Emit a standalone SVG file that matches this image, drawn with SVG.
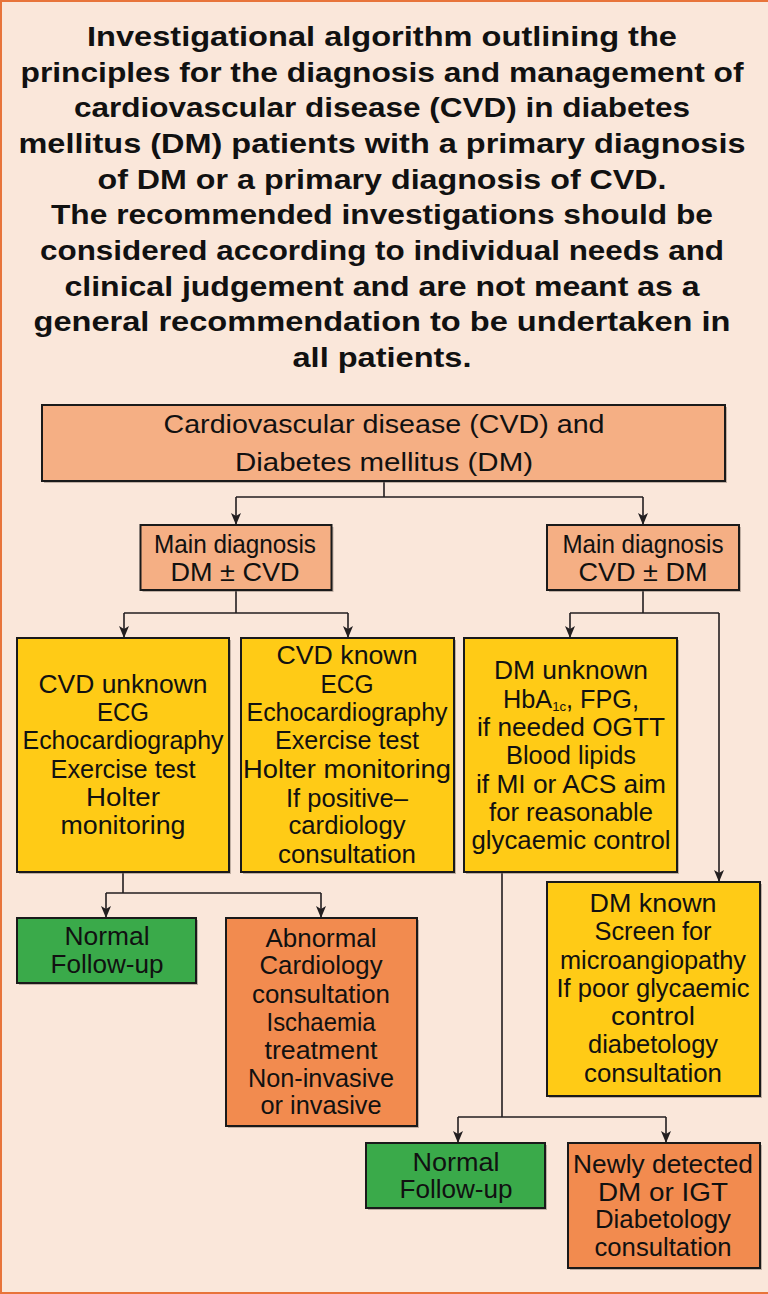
<svg xmlns="http://www.w3.org/2000/svg" width="768" height="1294" viewBox="0 0 768 1294">
<style>
.title{font-family:"Liberation Sans",Arial,sans-serif;font-weight:bold;font-size:27px;fill:#111;text-anchor:middle}
.t{font-family:"Liberation Sans Narrow","Liberation Sans",Arial,sans-serif;font-size:25px;fill:#111;text-anchor:middle}
.box{stroke:#1a1a1a;stroke-width:2}
.sh{fill:#7a6a60;opacity:0.45}
.peach{fill:#F5AF84}
.yellow{fill:#FFCB16}
.green{fill:#3AAA4A}
.orange{fill:#F28B4F}
.conn{fill:none;stroke:#231F20;stroke-width:1.6}
</style>
<defs>
<marker id="arr" markerUnits="userSpaceOnUse" markerWidth="12" markerHeight="10" viewBox="0 0 12 10" refX="12" refY="5" orient="auto">
<path d="M0,0 L12,5 L0,10 L3,5 z" fill="#231F20"/>
</marker>
</defs>
<rect x="1" y="1" width="800" height="1292" fill="#FAE7DA" stroke="#E8743A" stroke-width="2"/>
<g id="title">
<text class="title" x="382" y="46" textLength="590" lengthAdjust="spacingAndGlyphs">Investigational algorithm outlining the</text>
<text class="title" x="382" y="82" textLength="723" lengthAdjust="spacingAndGlyphs">principles for the diagnosis and management of</text>
<text class="title" x="382" y="117" textLength="616" lengthAdjust="spacingAndGlyphs">cardiovascular disease (CVD) in diabetes</text>
<text class="title" x="382" y="153" textLength="727" lengthAdjust="spacingAndGlyphs">mellitus (DM) patients with a primary diagnosis</text>
<text class="title" x="382" y="189" textLength="569" lengthAdjust="spacingAndGlyphs">of DM or a primary diagnosis of CVD.</text>
<text class="title" x="382" y="224" textLength="662" lengthAdjust="spacingAndGlyphs">The recommended investigations should be</text>
<text class="title" x="382" y="260" textLength="684" lengthAdjust="spacingAndGlyphs">considered according to individual needs and</text>
<text class="title" x="382" y="296" textLength="635" lengthAdjust="spacingAndGlyphs">clinical judgement and are not meant as a</text>
<text class="title" x="382" y="331" textLength="697" lengthAdjust="spacingAndGlyphs">general recommendation to be undertaken in</text>
<text class="title" x="382" y="367" textLength="179" lengthAdjust="spacingAndGlyphs">all patients.</text>
</g>
<g id="connectors">
<path class="conn" d="M384,481 V497 M236,497 H643"/>
<path class="conn" d="M236,497 V525" marker-end="url(#arr)"/>
<path class="conn" d="M643,497 V525" marker-end="url(#arr)"/>
<path class="conn" d="M236,590 V613 M124,613 H348 M643,590 V613 M570,613 H719"/>
<path class="conn" d="M124,613 V638" marker-end="url(#arr)"/>
<path class="conn" d="M348,613 V638" marker-end="url(#arr)"/>
<path class="conn" d="M570,613 V638" marker-end="url(#arr)"/>
<path class="conn" d="M719,613 V882" marker-end="url(#arr)"/>
<path class="conn" d="M123,872 V893 M106,893 H321"/>
<path class="conn" d="M106,893 V918" marker-end="url(#arr)"/>
<path class="conn" d="M321,893 V918" marker-end="url(#arr)"/>
<path class="conn" d="M502,872 V1117 M458,1117 H666"/>
<path class="conn" d="M458,1117 V1143" marker-end="url(#arr)"/>
<path class="conn" d="M666,1117 V1143" marker-end="url(#arr)"/>
</g>
<g id="root">
<rect class="sh" x="44" y="407" width="683" height="76"/>
<rect class="box peach" x="42" y="405" width="683" height="76"/>
<text class="t" x="384" y="433" font-size="28" textLength="441" lengthAdjust="spacingAndGlyphs">Cardiovascular disease (CVD) and</text>
<text class="t" x="384" y="471" font-size="28" textLength="298" lengthAdjust="spacingAndGlyphs">Diabetes mellitus (DM)</text>
</g>
<g id="main-dm">
<rect class="sh" x="142.5" y="527" width="191" height="65"/>
<rect class="box peach" x="140.5" y="525" width="191" height="65"/>
<text class="t" x="235" y="553" textLength="162" lengthAdjust="spacingAndGlyphs">Main diagnosis</text>
<text class="t" x="235" y="581" textLength="129" lengthAdjust="spacingAndGlyphs">DM ± CVD</text>
</g>
<g id="main-cvd">
<rect class="sh" x="549" y="527" width="192" height="65"/>
<rect class="box peach" x="547" y="525" width="192" height="65"/>
<text class="t" x="643" y="553" textLength="161" lengthAdjust="spacingAndGlyphs">Main diagnosis</text>
<text class="t" x="643" y="581" textLength="129" lengthAdjust="spacingAndGlyphs">CVD ± DM</text>
</g>
<g id="cvd-unknown">
<rect class="sh" x="19" y="640" width="212" height="234"/>
<rect class="box yellow" x="17" y="638" width="212" height="234"/>
<text class="t" x="123" y="693" textLength="169" lengthAdjust="spacingAndGlyphs">CVD unknown</text>
<text class="t" x="123" y="721" textLength="52" lengthAdjust="spacingAndGlyphs">ECG</text>
<text class="t" x="123" y="749" textLength="201" lengthAdjust="spacingAndGlyphs">Echocardiography</text>
<text class="t" x="123" y="778" textLength="145" lengthAdjust="spacingAndGlyphs">Exercise test</text>
<text class="t" x="123" y="806" textLength="74" lengthAdjust="spacingAndGlyphs">Holter</text>
<text class="t" x="123" y="834" textLength="125" lengthAdjust="spacingAndGlyphs">monitoring</text>
</g>
<g id="cvd-known">
<rect class="sh" x="243" y="640" width="213" height="234"/>
<rect class="box yellow" x="241" y="638" width="213" height="234"/>
<text class="t" x="347" y="664" textLength="141" lengthAdjust="spacingAndGlyphs">CVD known</text>
<text class="t" x="347" y="693" textLength="53" lengthAdjust="spacingAndGlyphs">ECG</text>
<text class="t" x="347" y="721" textLength="201" lengthAdjust="spacingAndGlyphs">Echocardiography</text>
<text class="t" x="347" y="749" textLength="144" lengthAdjust="spacingAndGlyphs">Exercise test</text>
<text class="t" x="347" y="778" textLength="208" lengthAdjust="spacingAndGlyphs">Holter monitoring</text>
<text class="t" x="347" y="807" textLength="122" lengthAdjust="spacingAndGlyphs">If positive–</text>
<text class="t" x="347" y="834" textLength="117" lengthAdjust="spacingAndGlyphs">cardiology</text>
<text class="t" x="347" y="863" textLength="138" lengthAdjust="spacingAndGlyphs">consultation</text>
</g>
<g id="dm-unknown">
<rect class="sh" x="466" y="640" width="213" height="234"/>
<rect class="box yellow" x="464" y="638" width="213" height="234"/>
<text class="t" x="571" y="679" textLength="154" lengthAdjust="spacingAndGlyphs">DM unknown</text>
<text class="t" x="571" y="708" textLength="136" lengthAdjust="spacingAndGlyphs">HbA<tspan font-size="13" dy="3">1c</tspan><tspan dy="-3">, FPG,</tspan></text>
<text class="t" x="571" y="736" textLength="188" lengthAdjust="spacingAndGlyphs">if needed OGTT</text>
<text class="t" x="571" y="764" textLength="130" lengthAdjust="spacingAndGlyphs">Blood lipids</text>
<text class="t" x="571" y="793" textLength="190" lengthAdjust="spacingAndGlyphs">if MI or ACS aim</text>
<text class="t" x="571" y="821" textLength="164" lengthAdjust="spacingAndGlyphs">for reasonable</text>
<text class="t" x="571" y="849" textLength="199" lengthAdjust="spacingAndGlyphs">glycaemic control</text>
</g>
<g id="dm-known">
<rect class="sh" x="549" y="884" width="213" height="214"/>
<rect class="box yellow" x="547" y="882" width="213" height="214"/>
<text class="t" x="653" y="912" textLength="127" lengthAdjust="spacingAndGlyphs">DM known</text>
<text class="t" x="653" y="940" textLength="117" lengthAdjust="spacingAndGlyphs">Screen for</text>
<text class="t" x="653" y="969" textLength="186" lengthAdjust="spacingAndGlyphs">microangiopathy</text>
<text class="t" x="653" y="997" textLength="193" lengthAdjust="spacingAndGlyphs">If poor glycaemic</text>
<text class="t" x="653" y="1025" textLength="84" lengthAdjust="spacingAndGlyphs">control</text>
<text class="t" x="653" y="1053" textLength="130" lengthAdjust="spacingAndGlyphs">diabetology</text>
<text class="t" x="653" y="1082" textLength="138" lengthAdjust="spacingAndGlyphs">consultation</text>
</g>
<g id="normal-1">
<rect class="sh" x="19" y="920" width="179" height="65"/>
<rect class="box green" x="17" y="918" width="179" height="65"/>
<text class="t" x="107" y="945" textLength="85" lengthAdjust="spacingAndGlyphs">Normal</text>
<text class="t" x="107" y="973" textLength="113" lengthAdjust="spacingAndGlyphs">Follow-up</text>
</g>
<g id="abnormal">
<rect class="sh" x="228" y="920" width="191" height="208"/>
<rect class="box orange" x="226" y="918" width="191" height="208"/>
<text class="t" x="321" y="947" textLength="111" lengthAdjust="spacingAndGlyphs">Abnormal</text>
<text class="t" x="321" y="974" textLength="123" lengthAdjust="spacingAndGlyphs">Cardiology</text>
<text class="t" x="321" y="1003" textLength="138" lengthAdjust="spacingAndGlyphs">consultation</text>
<text class="t" x="321" y="1031" textLength="109" lengthAdjust="spacingAndGlyphs">Ischaemia</text>
<text class="t" x="321" y="1059" textLength="113" lengthAdjust="spacingAndGlyphs">treatment</text>
<text class="t" x="321" y="1087" textLength="146" lengthAdjust="spacingAndGlyphs">Non-invasive</text>
<text class="t" x="321" y="1114" textLength="121" lengthAdjust="spacingAndGlyphs">or invasive</text>
</g>
<g id="normal-2">
<rect class="sh" x="368" y="1145" width="179" height="65"/>
<rect class="box green" x="366" y="1143" width="179" height="65"/>
<text class="t" x="456" y="1171" textLength="87" lengthAdjust="spacingAndGlyphs">Normal</text>
<text class="t" x="456" y="1198" textLength="113" lengthAdjust="spacingAndGlyphs">Follow-up</text>
</g>
<g id="newly-detected">
<rect class="sh" x="570" y="1145" width="192" height="125"/>
<rect class="box orange" x="568" y="1143" width="192" height="125"/>
<text class="t" x="663" y="1173" textLength="180" lengthAdjust="spacingAndGlyphs">Newly detected</text>
<text class="t" x="663" y="1201" textLength="130" lengthAdjust="spacingAndGlyphs">DM or IGT</text>
<text class="t" x="663" y="1228" textLength="136" lengthAdjust="spacingAndGlyphs">Diabetology</text>
<text class="t" x="663" y="1256" textLength="137" lengthAdjust="spacingAndGlyphs">consultation</text>
</g>
</svg>
